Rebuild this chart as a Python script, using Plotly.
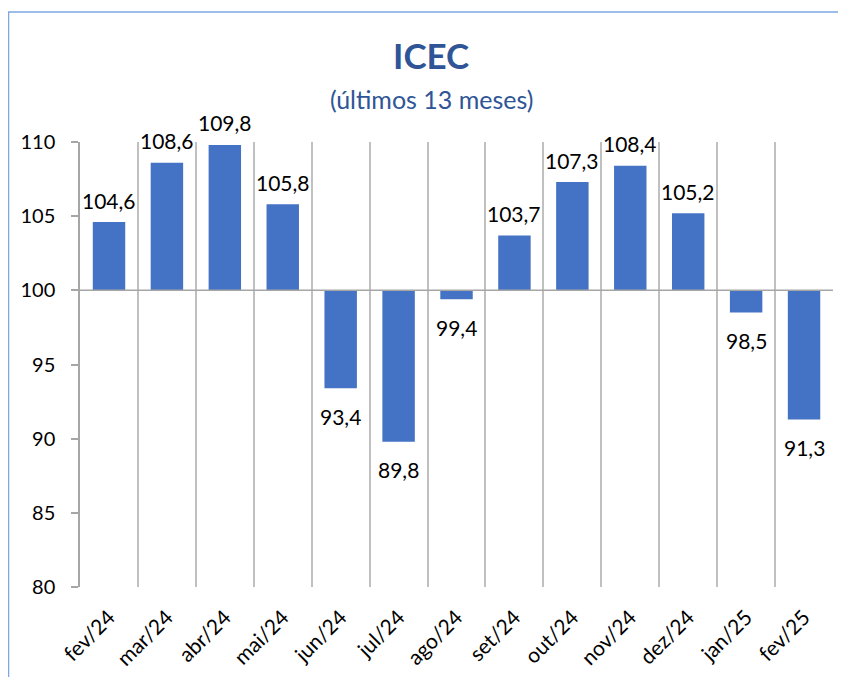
import plotly.graph_objects as go

months = ["fev/24", "mar/24", "abr/24", "mai/24", "jun/24", "jul/24", "ago/24",
          "set/24", "out/24", "nov/24", "dez/24", "jan/25", "fev/25"]
icec = [104.6, 108.6, 109.8, 105.8, 93.4, 89.8, 99.4, 103.7, 107.3, 108.4, 105.2, 98.5, 91.3]
baseline = 100
y_ticks = [80, 85, 90, 95, 100, 105, 110]

FONT = "Lato"
labels = [f"{v:.1f}".replace(".", ",") for v in icec]

fig = go.Figure()
fig.add_trace(go.Bar(
    x=months,
    y=[v - baseline for v in icec],
    base=baseline,
    marker=dict(color="#4472c4", line=dict(width=0)),
    width=0.56,
    cliponaxis=False,
))

# data labels, anchored at the bar ends in data coordinates
for m, v, t in zip(months, icec, labels):
    fig.add_annotation(
        x=m, y=v, xref="x", yref="y", text=t, showarrow=False,
        xanchor="center", yanchor="middle",
        yshift=22 if v >= baseline else -28,
        font=dict(family=FONT, size=21, color="#000000"),
    )

OFF = 8  # page body margin
W, H = 838, 669
L, R, T, B = 80 - OFF, 13, 142 - OFF, 90
pw, ph = W - L - R, H - T - B

def px(xs):
    return (xs - OFF - L) / pw

def py(ys):
    return (H - B - (ys - OFF)) / ph

border = "#7ea6e0"
fig.add_shape(type="line", xref="paper", yref="paper", x0=px(8), x1=px(850), y0=py(12), y1=py(12),
              line=dict(color=border, width=1.5))
fig.add_shape(type="line", xref="paper", yref="paper", x0=px(8.5), x1=px(8.5), y0=py(12), y1=py(680),
              line=dict(color=border, width=1.5))
fig.add_shape(type="line", xref="paper", yref="y", x0=0, x1=1, y0=baseline, y1=baseline,
              line=dict(color="#a6a6a6", width=1.5), layer="above")

fig.add_annotation(text="<b>ICEC</b>", xref="paper", yref="paper", x=px(431), y=py(55),
                   xanchor="center", yanchor="middle",
                   showarrow=False, font=dict(family=FONT, size=35, color="#2f5597"))
fig.add_annotation(text="(últimos 13 meses)", xref="paper", yref="paper", x=px(431), y=py(99),
                   xanchor="center", yanchor="middle",
                   showarrow=False, font=dict(family=FONT, size=25, color="#2f5597"))

fig.update_layout(
    width=W, height=H,
    margin=dict(l=L, r=R, t=T, b=B),
    paper_bgcolor="white", plot_bgcolor="white",
    showlegend=False,
    xaxis=dict(
        type="category",
        tickson="boundaries",
        showgrid=True, gridcolor="#c0c0c0", gridwidth=1.5,
        ticks="", tickangle=-45,
        ticklabelstandoff=13,
        automargin=False,
        tickfont=dict(family=FONT, size=21, color="#000000"),
        showline=False, zeroline=False,
    ),
    yaxis=dict(
        range=[80, 110],
        tickvals=y_ticks,
        ticktext=[str(v) for v in y_ticks],
        showgrid=False, zeroline=False,
        automargin=False,
        showline=True, linecolor="#a6a6a6", linewidth=1.5,
        ticks="outside", ticklen=7, tickcolor="#a6a6a6", tickwidth=1.5,
        ticklabelstandoff=12,
        tickfont=dict(family=FONT, size=20, color="#000000"),
    ),
)

fig.write_html("out.html")
